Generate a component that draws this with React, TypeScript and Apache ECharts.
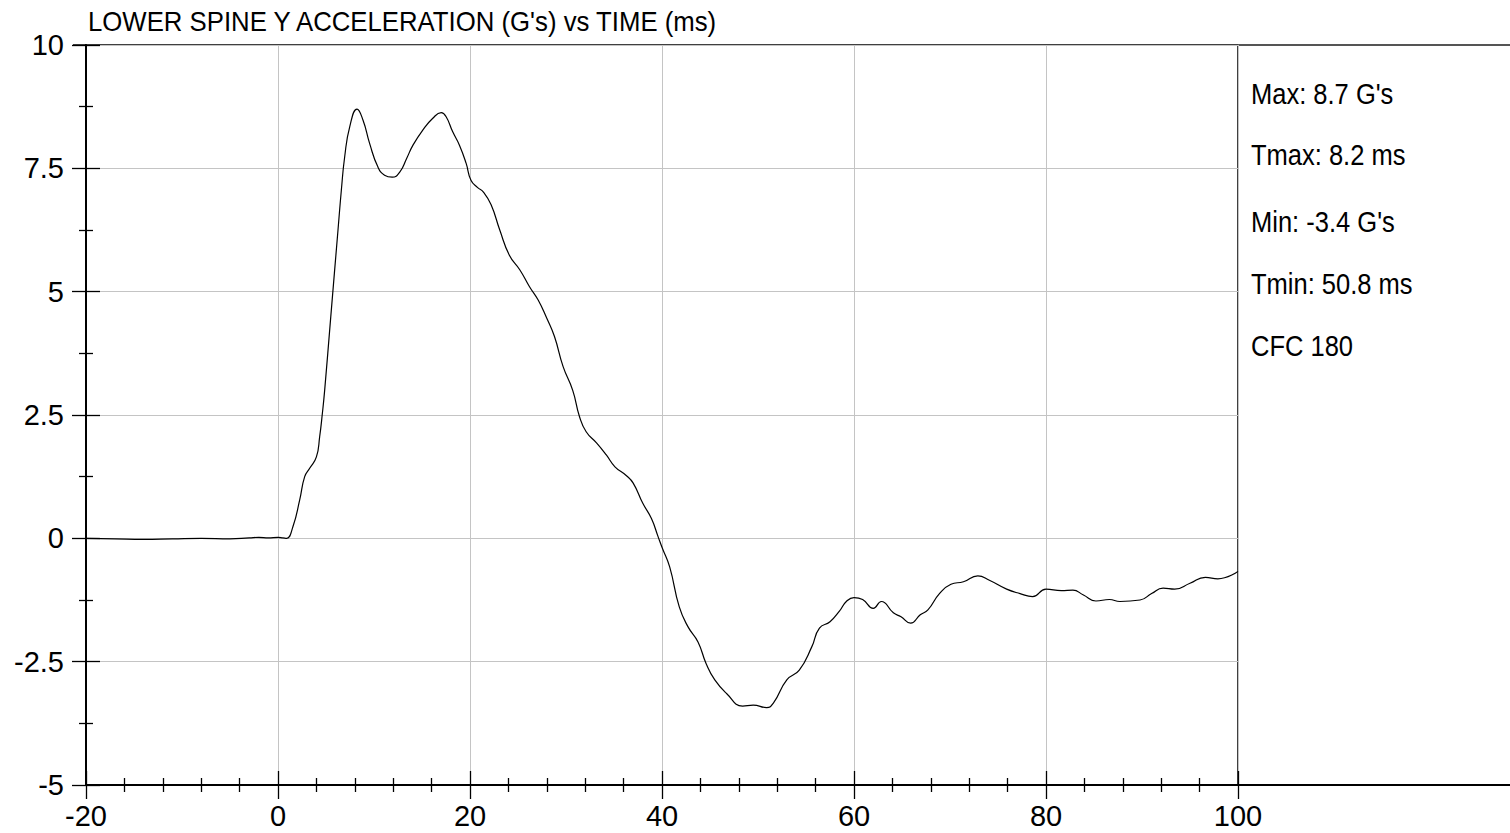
import React, { useEffect, useRef } from "react";
import * as echarts from "echarts";

const chartTitle = "LOWER SPINE Y ACCELERATION (G's) vs TIME (ms)";
const statsLines = ["Max: 8.7 G's", "Tmax: 8.2 ms", "Min: -3.4 G's", "Tmin: 50.8 ms", "CFC 180"];

const timeMs = [
  -20, -17, -14, -11, -8, -5, -3, -2, -1, 0, 0.5, 0.9, 1.56, 2.26, 2.78, 3.3, 4.0, 4.34, 4.62, 4.86,
  5.5, 6.25, 6.6, 6.95, 7.47, 8.23, 8.85, 9.55, 10.4, 11.1, 11.9, 12.7, 13.4, 14.06, 15.1, 16.1, 17.0,
  17.5, 18.2, 18.9, 19.6, 20.1, 20.8, 21.4, 22.2, 23.1, 24.1, 25.2, 26.2, 27.1, 28.0, 28.8, 29.7, 30.7,
  31.4, 32.1, 33.2, 34.2, 35.1, 36.3, 37.0, 38.0, 38.9, 39.6, 40.04, 40.8, 41.8, 42.7, 43.75, 44.6,
  45.5, 46.7, 48.4, 49.5, 50.9, 51.6, 53.0, 54.3, 55.6, 56.4, 57.5, 58.5, 59.2, 60.0, 60.9, 62.0,
  62.85, 64.1, 64.9, 65.9, 66.9, 67.7, 68.9, 70.1, 71.4, 72.9, 74.1, 75.9, 77.3, 78.6, 80.0, 81.6,
  82.8, 83.9, 85.2, 86.6, 87.7, 89.8, 91.0, 92.2, 93.4, 95.0, 96.6, 97.9, 100,
];
const accelG = [
  0.0, -0.01, -0.02, -0.01, 0.0, -0.01, 0.01, 0.02, 0.01, 0.02, 0.01, 0.0, 0.24, 0.78, 1.25, 1.42, 1.65, 2.06, 2.53, 3.0,
  4.5, 6.25, 7.06, 7.74, 8.34, 8.7, 8.48, 8.0, 7.53, 7.36, 7.32, 7.43, 7.7, 7.97, 8.28, 8.51, 8.63,
  8.55, 8.24, 7.97, 7.6, 7.26, 7.11, 7.02, 6.76, 6.25, 5.74, 5.44, 5.1, 4.83, 4.46, 4.09, 3.48, 3.0,
  2.47, 2.16, 1.93, 1.69, 1.45, 1.27, 1.12, 0.71, 0.4, 0.03, -0.2, -0.58, -1.39, -1.79, -2.1, -2.54,
  -2.87, -3.14, -3.4, -3.38, -3.43, -3.34, -2.87, -2.67, -2.2, -1.82, -1.69, -1.47, -1.28, -1.2, -1.24, -1.42,
  -1.28, -1.51, -1.59, -1.72, -1.55, -1.45, -1.12, -0.93, -0.88, -0.76, -0.85, -1.03, -1.12, -1.18, -1.03, -1.06,
  -1.05, -1.15, -1.27, -1.24, -1.28, -1.25, -1.12, -1.01, -1.03, -0.91, -0.79, -0.82, -0.67,
];

const FONT = '"Liberation Sans", Arial, sans-serif';

export default function App() {
  const ref = useRef<HTMLDivElement>(null);
  useEffect(() => {
    if (!ref.current) return;
    const chart = echarts.init(ref.current, undefined, { renderer: "svg" });
    const data = timeMs.map((t, i) => [t, accelG[i]]);
    const gridLeft = 86, gridTop = 45, gridW = 1152, gridH = 740;

    const commonX = { type: "value", min: -20, max: 100, interval: 20, position: "bottom", gridIndex: 0 };
    const commonY = { type: "value", min: -5, max: 10, interval: 2.5, position: "left", gridIndex: 0 };
    const tickStyle = { color: "#000", width: 1.3 };

    chart.setOption({
      animation: false,
      grid: {
        left: gridLeft, top: gridTop, width: gridW, height: gridH,
        show: true, borderColor: "#000", borderWidth: 1.5, backgroundColor: "transparent",
      },
      xAxis: [
        {
          ...commonX,
          axisLine: { show: true, onZero: false, lineStyle: { color: "#000", width: 2 } },
          axisTick: { show: true, inside: false, length: 14, lineStyle: tickStyle },
          minorTick: { show: true, splitNumber: 5, length: 7, lineStyle: tickStyle },
          axisLabel: { show: true, fontSize: 29, color: "#000", fontFamily: FONT, margin: 16 },
          splitLine: { show: true, lineStyle: { color: "#c4c4c4", width: 1 } },
        },
        {
          ...commonX,
          axisLine: { show: false, onZero: false },
          axisTick: { show: true, inside: true, length: 14, lineStyle: tickStyle },
          minorTick: { show: true, splitNumber: 5, length: 7, lineStyle: tickStyle },
          axisLabel: { show: false },
          splitLine: { show: false },
        },
      ],
      yAxis: [
        {
          ...commonY,
          axisLine: { show: true, onZero: false, lineStyle: { color: "#000", width: 2 } },
          axisTick: { show: true, inside: false, length: 14, lineStyle: tickStyle },
          minorTick: { show: true, splitNumber: 2, length: 7, lineStyle: tickStyle },
          axisLabel: { show: true, fontSize: 29, color: "#000", fontFamily: FONT, margin: 22 },
          splitLine: { show: true, lineStyle: { color: "#c4c4c4", width: 1 } },
        },
        {
          ...commonY,
          axisLine: { show: false, onZero: false },
          axisTick: { show: true, inside: true, length: 14, lineStyle: tickStyle },
          minorTick: { show: true, splitNumber: 2, length: 7, lineStyle: tickStyle },
          axisLabel: { show: false },
          splitLine: { show: false },
        },
      ],
      series: [
        {
          type: "line",
          xAxisIndex: 0,
          yAxisIndex: 0,
          data,
          showSymbol: false,
          symbol: "none",
          smooth: 0.5,
          lineStyle: { color: "#000", width: 1.2 },
          silent: true,
        },
      ],
      graphic: [
        {
          type: "text", x: 88, y: 22, scaleX: 0.92, silent: true,
          style: { text: chartTitle, fontSize: 28, fontFamily: FONT, fill: "#000", verticalAlign: "middle", align: "left" },
        },
        {
          type: "line", silent: true,
          shape: { x1: gridLeft + gridW, y1: gridTop, x2: 1510, y2: gridTop },
          style: { stroke: "#555", lineWidth: 2 },
        },
        {
          type: "line", silent: true,
          shape: { x1: gridLeft - 13, y1: gridTop, x2: gridLeft, y2: gridTop },
          style: { stroke: "#000", lineWidth: 1.5 },
        },
        {
          type: "line", silent: true,
          shape: { x1: gridLeft + gridW, y1: gridTop + gridH, x2: 1510, y2: gridTop + gridH },
          style: { stroke: "#000", lineWidth: 2 },
        },
        ...statsLines.map((t, i) => ({
          type: "text", x: 1251, y: [94, 155, 222, 284, 346][i], scaleX: 0.88, silent: true,
          style: { text: t, fontSize: 29, fontFamily: FONT, fill: "#000", verticalAlign: "middle", align: "left" },
        })),
      ],
    });
    return () => chart.dispose();
  }, []);
  return <div ref={ref} style={{ position: "absolute", left: 0, top: 0, width: 1510, height: 833 }} />;
}
